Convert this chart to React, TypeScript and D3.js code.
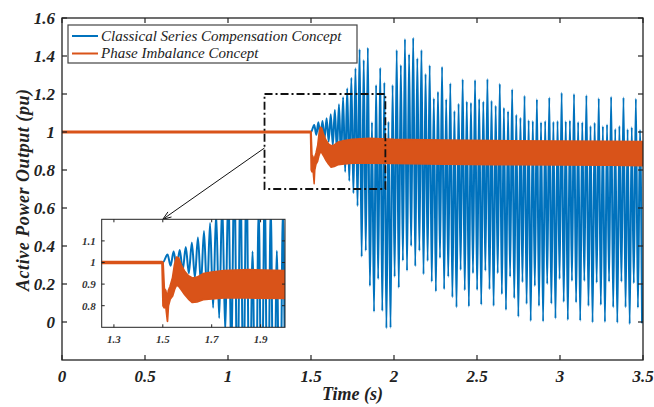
import React from "react";
import * as d3 from "d3";

// ---------- data ----------
const xTicks = [0, 0.5, 1, 1.5, 2, 2.5, 3, 3.5];
const xTickLabels = ["0", "0.5", "1", "1.5", "2", "2.5", "3", "3.5"];
const yTicks = [0, 0.2, 0.4, 0.6, 0.8, 1, 1.2, 1.4, 1.6];
const yTickLabels = ["0", "0.2", "0.4", "0.6", "0.8", "1", "1.2", "1.4", "1.6"];
const insetXTicks = [1.3, 1.5, 1.7, 1.9];
const insetYTicks = [0.8, 0.9, 1, 1.1];

const seriesNames = ["Classical Series Compensation Concept", "Phase Imbalance Concept"];

// Classical series compensation: steady at 1 pu, oscillation after the event
const blueSteadyTimes = [0, 1.5];
const blueSteadyValues = [1, 1];
const blueCycleStart = 1.5195; // time of first oscillation peak (s)
const blueCyclePeriod = 0.02484; // oscillation period (s)
const blueMax = [
  1.037, 1.051, 1.058, 1.072, 1.093, 1.116, 1.146, 1.183, 1.23, 1.286,
  1.335, 1.435, 1.379, 1.444, 1.051, 1.247, 1.338, 1.26, 1.054, 1.247,
  1.432, 1.353, 1.489, 1.409, 1.496, 1.388, 1.432, 1.305, 1.351, 1.177,
  1.212, 1.344, 1.172, 1.256, 1.11, 1.149, 1.277, 1.161, 1.154, 1.274,
  1.174, 1.161, 1.279, 1.165, 1.138, 1.254, 1.128, 1.109, 1.225, 1.091,
  1.075, 1.191, 1.062, 1.058, 1.172, 1.051, 1.058, 1.181, 1.054, 1.058,
  1.207, 1.056, 1.061, 1.2, 1.053, 1.051, 1.193, 1.032, 1.049, 1.177,
  1.03, 1.039, 1.186, 1.016, 1.032, 1.181, 1.014, 1.025, 1.175, 1.011,
];
const blueMin = [
  0.985, 0.975, 0.965, 0.95, 0.93, 0.9, 0.85, 0.79, 0.742, 0.677,
  0.611, 0.344, 0.375, 0.189, 0.054, 0.226, 0.058, -0.033, -0.03, 0.238,
  0.18, 0.323, 0.27, 0.4, 0.293, 0.375, 0.251, 0.321, 0.212, 0.161,
  0.337, 0.172, 0.238, 0.13, 0.077, 0.274, 0.167, 0.081, 0.256, 0.168,
  0.091, 0.27, 0.172, 0.084, 0.256, 0.146, 0.063, 0.238, 0.125, 0.028,
  0.209, 0.095, 0.005, 0.189, 0.084, 0.002, 0.2, 0.096, 0.019, 0.226,
  0.105, 0.011, 0.216, 0.102, 0.007, 0.216, 0.084, -0.002, 0.207, 0.089,
  0.0, 0.212, 0.077, -0.004, 0.212, 0.077, -0.011, 0.204, 0.075, -0.007,
];

// Phase imbalance concept: envelope (upper / lower) of the fast ripple band
const orangeTimes = [
  0, 1.497, 1.501, 1.506, 1.512, 1.516, 1.519, 1.523, 1.53, 1.54, 1.548,
  1.556, 1.565, 1.575, 1.59, 1.605, 1.621, 1.64, 1.665, 1.7, 1.75, 1.85,
  2.0, 2.3, 2.6, 3.0, 3.3, 3.5,
];
const orangeUpper = [
  1.004, 1.004, 1.0, 0.88, 0.87, 0.85, 0.84, 0.87, 0.89, 0.93, 0.99,
  1.025, 1.02, 0.99, 0.958, 0.938, 0.928, 0.932, 0.948, 0.955, 0.962, 0.967,
  0.962, 0.958, 0.955, 0.953, 0.951, 0.95,
];
const orangeLower = [
  0.996, 0.996, 0.8, 0.79, 0.8, 0.76, 0.728, 0.8, 0.83, 0.845, 0.875,
  0.895, 0.89, 0.875, 0.851, 0.831, 0.815, 0.818, 0.828, 0.832, 0.836, 0.836,
  0.834, 0.83, 0.828, 0.826, 0.825, 0.823,
];

// zoom window (data coords) and inset domains
const zoomBoxX = [1.22, 1.948];
const zoomBoxY = [0.7, 1.2];
const insetXDomain = [1.25, 2.0];
const insetYDomain = [0.7, 1.2];

// ---------- styles ----------
const BLUE = "#0072BD";
const ORANGE = "#D95319";
const FONT = "'Liberation Serif', 'Times New Roman', serif";

type P = { t: number; v: number };

function bluePoints(): P[] {
  const pts: P[] = blueSteadyTimes.map((t, i) => ({ t, v: blueSteadyValues[i] }));
  blueMax.forEach((mx, i) => {
    const tp = blueCycleStart + i * blueCyclePeriod;
    pts.push({ t: tp, v: mx });
    pts.push({ t: tp + blueCyclePeriod / 2, v: blueMin[i] });
  });
  return pts;
}

const orangeRows = orangeTimes.map((t, i) => ({ t, hi: orangeUpper[i], lo: orangeLower[i] }));

export default function App() {
  const L = 62, R = 643, T = 18, B = 360;
  const x = d3.scaleLinear().domain([0, 3.5]).range([L, R]);
  const y = d3.scaleLinear().domain([-0.2, 1.6]).range([B, T]);

  const iL = 101.7, iR = 285, iT = 219.3, iB = 327.3;
  const xi = d3.scaleLinear().domain(insetXDomain).range([iL, iR]);
  const yi = d3.scaleLinear().domain(insetYDomain).range([iB, iT]);

  const bp = bluePoints();
  const blueLine = (sx: any, sy: any) =>
    d3.line<P>().x((d) => sx(d.t)).y((d) => sy(d.v)).curve(d3.curveMonotoneX)(bp) || "";
  const orangeArea = (sx: any, sy: any) =>
    d3
      .area<any>()
      .x((d) => sx(d.t))
      .y0((d) => sy(d.lo))
      .y1((d) => sy(d.hi))(orangeRows) || "";

  const bx0 = x(zoomBoxX[0]), bx1 = x(zoomBoxX[1]);
  const by0 = y(zoomBoxY[1]), by1 = y(zoomBoxY[0]);

  // arrow from zoom box to inset
  const ax0 = bx0, ay0 = y(0.916);
  const ax1 = xi(1.5), ay1 = iT;
  const ang = Math.atan2(ay1 - ay0, ax1 - ax0);
  const ah = 9, aw = 0.35;
  const h1 = [ax1 - ah * Math.cos(ang - aw), ay1 - ah * Math.sin(ang - aw)];
  const h2 = [ax1 - ah * Math.cos(ang + aw), ay1 - ah * Math.sin(ang + aw)];

  const tickLen = 5;
  const itl = 3;

  return (
    <svg
      width={654}
      height={407}
      style={{ position: "absolute", left: 0, top: 0, background: "#fff" }}
      fontFamily={FONT}
    >
      <rect x={0} y={0} width={654} height={407} fill="#fff" />
      <defs>
        <clipPath id="mainClip">
          <rect x={L} y={T} width={R - L} height={B - T} />
        </clipPath>
        <clipPath id="insetClip">
          <rect x={iL} y={iT} width={iR - iL} height={iB - iT} />
        </clipPath>
      </defs>

      {/* main data */}
      <g clipPath="url(#mainClip)">
        <path d={blueLine(x, y)} fill="none" stroke={BLUE} strokeWidth={2} strokeLinejoin="round" />
        <path d={orangeArea(x, y)} fill={ORANGE} stroke={ORANGE} strokeWidth={1.5} strokeLinejoin="round" />
      </g>

      {/* main axes box */}
      <rect x={L} y={T} width={R - L} height={B - T} fill="none" stroke="#222" strokeWidth={1.3} />
      {xTicks.map((t, i) => (
        <g key={"xt" + i}>
          <line x1={x(t)} x2={x(t)} y1={B} y2={B - tickLen} stroke="#222" strokeWidth={1.2} />
          <line x1={x(t)} x2={x(t)} y1={T} y2={T + tickLen} stroke="#222" strokeWidth={1.2} />
          <text
            x={x(t)}
            y={B + 22}
            textAnchor="middle"
            fontSize={17}
            fontWeight="bold"
            fontStyle="italic"
            fill="#222"
          >
            {xTickLabels[i]}
          </text>
        </g>
      ))}
      {yTicks.map((t, i) => (
        <g key={"yt" + i}>
          <line x1={L} x2={L + tickLen} y1={y(t)} y2={y(t)} stroke="#222" strokeWidth={1.2} />
          <line x1={R} x2={R - tickLen} y1={y(t)} y2={y(t)} stroke="#222" strokeWidth={1.2} />
          <text
            x={L - 7}
            y={y(t)}
            dy="0.35em"
            textAnchor="end"
            fontSize={17}
            fontWeight="bold"
            fontStyle="italic"
            fill="#222"
          >
            {yTickLabels[i]}
          </text>
        </g>
      ))}
      <text
        x={(L + R) / 2}
        y={405}
        dy="-0.3em"
        textAnchor="middle"
        fontSize={18}
        fontWeight="bold"
        fontStyle="italic"
        fill="#222"
      >
        Time (s)
      </text>
      <text
        transform={`translate(29, ${(T + B) / 2 + 1}) rotate(-90)`}
        textAnchor="middle"
        fontSize={18}
        fontWeight="bold"
        fontStyle="italic"
        fill="#222"
        textLength={202}
        lengthAdjust="spacing"
      >
        Active Power Output (pu)
      </text>

      {/* zoom box */}
      <rect
        x={bx0}
        y={by0}
        width={bx1 - bx0}
        height={by1 - by0}
        fill="none"
        stroke="#111"
        strokeWidth={1.8}
        strokeDasharray="8,3,2,3"
      />
      {/* arrow */}
      <line x1={ax0} y1={ay0} x2={ax1} y2={ay1} stroke="#111" strokeWidth={1} />
      <path d={`M${h1[0]},${h1[1]} L${ax1},${ay1} L${h2[0]},${h2[1]}`} fill="none" stroke="#111" strokeWidth={1} />

      {/* legend */}
      <rect x={68} y={25} width={289} height={38} fill="#fff" stroke="#444" strokeWidth={1.2} />
      {seriesNames.map((n, i) => (
        <g key={"lg" + i}>
          <line
            x1={72}
            x2={98}
            y1={36 + i * 17.5}
            y2={36 + i * 17.5}
            stroke={i === 0 ? BLUE : ORANGE}
            strokeWidth={2}
          />
          <text x={101} y={36 + i * 17.5} dy="0.33em" fontSize={15} fontStyle="italic" fill="#222">
            {n}
          </text>
        </g>
      ))}

      {/* inset */}
      <rect x={iL} y={iT} width={iR - iL} height={iB - iT} fill="#fff" />
      <g clipPath="url(#insetClip)">
        <path d={blueLine(xi, yi)} fill="none" stroke={BLUE} strokeWidth={2} strokeLinejoin="round" />
        <path d={orangeArea(xi, yi)} fill={ORANGE} stroke={ORANGE} strokeWidth={1.8} strokeLinejoin="round" />
      </g>
      <rect x={iL} y={iT} width={iR - iL} height={iB - iT} fill="none" stroke="#222" strokeWidth={1} />
      {insetXTicks.map((t, i) => (
        <g key={"ixt" + i}>
          <line x1={xi(t)} x2={xi(t)} y1={iB} y2={iB - itl} stroke="#222" strokeWidth={1} />
          <line x1={xi(t)} x2={xi(t)} y1={iT} y2={iT + itl} stroke="#222" strokeWidth={1} />
          <text
            x={xi(t)}
            y={iB + 16}
            textAnchor="middle"
            fontSize={11}
            fontWeight="bold"
            fontStyle="italic"
            fill="#333"
          >
            {String(t)}
          </text>
        </g>
      ))}
      {insetYTicks.map((t, i) => (
        <g key={"iyt" + i}>
          <line x1={iL} x2={iL + itl} y1={yi(t)} y2={yi(t)} stroke="#222" strokeWidth={1} />
          <line x1={iR} x2={iR - itl} y1={yi(t)} y2={yi(t)} stroke="#222" strokeWidth={1} />
          <text
            x={iL - 6}
            y={yi(t)}
            dy="0.35em"
            textAnchor="end"
            fontSize={11}
            fontWeight="bold"
            fontStyle="italic"
            fill="#333"
          >
            {String(t)}
          </text>
        </g>
      ))}
    </svg>
  );
}
